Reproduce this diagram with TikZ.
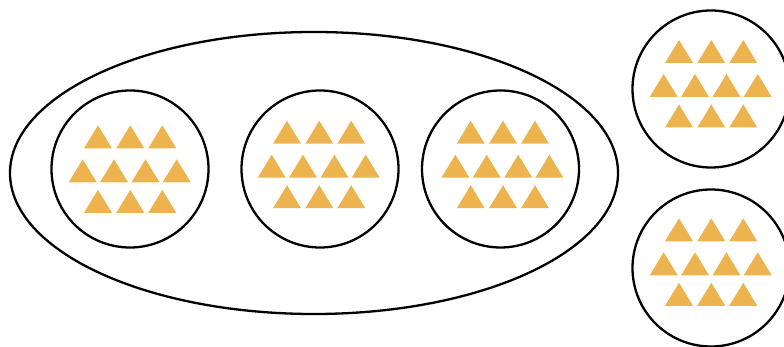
\documentclass[tikz,border=0pt]{standalone}
\definecolor{triorange}{HTML}{EDB34F}
\tikzset{
  ring/.style={draw=black, line width=2.3pt, circle, minimum size=157pt, inner sep=0pt},
  tri/.style={fill=triorange},
  onetri/.pic={\fill[tri] (0,0) -- (14,23) -- (-14,23) -- cycle;},
  tris/.pic={
    \foreach \x in {0,32.3,64.3} {\pic at (\x,0) {onetri};}
    \foreach \x in {-15.3,16,47.5,78.7} {\pic at (\x,34) {onetri};}
    \foreach \x in {0,32.3,64.3} {\pic at (\x,64.5) {onetri};}
  }
}
\begin{document}
\begin{tikzpicture}[x=1pt,y=-1pt]
\useasboundingbox (0,0) rectangle (784,347);
\draw[line width=2.3pt] (314,173) ellipse [x radius=304pt, y radius=141pt];
\node[ring] (c1) at (130,169) {};
\node[ring] (c2) at (320,169) {};
\node[ring] (c3) at (500.5,169) {};
\node[ring] (c4) at (711,89) {};
\node[ring] (c5) at (711,268) {};
\pic at (98,125.3) {tris};
\pic at (287,120.7) {tris};
\pic at (470.7,120.7) {tris};
\pic at (679,40) {tris};
\pic at (679,218.3) {tris};
\end{tikzpicture}
\end{document}
